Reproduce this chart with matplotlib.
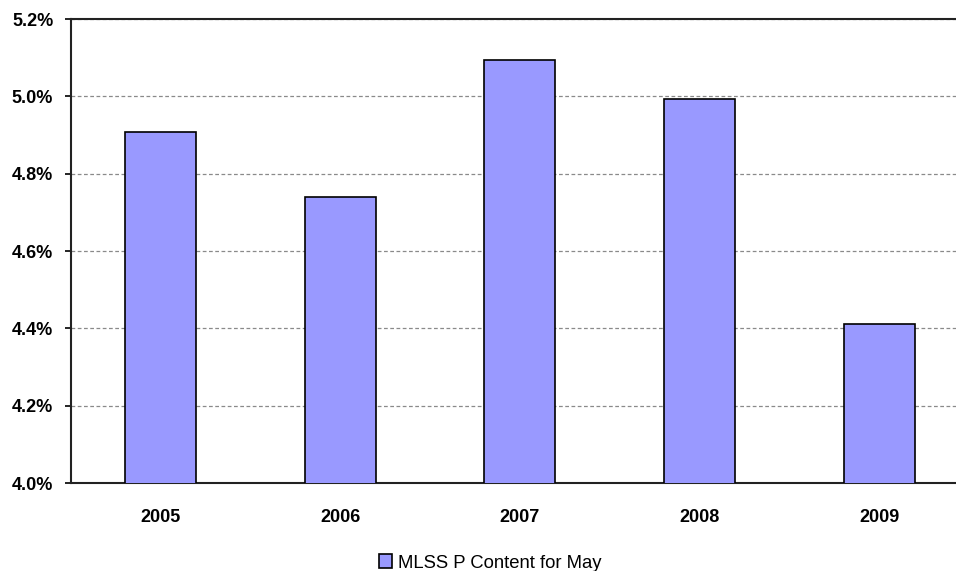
import matplotlib.pyplot as plt
import matplotlib.ticker as mticker

years = ["2005", "2006", "2007", "2008", "2009"]
p_content = [4.908, 4.740, 5.094, 4.993, 4.411]
y_ticks = [4.0, 4.2, 4.4, 4.6, 4.8, 5.0, 5.2]

plt.rcParams['font.family'] = ['Liberation Sans', 'DejaVu Sans']

fig = plt.figure(figsize=(9.56, 5.71), dpi=100)
ax = fig.add_axes([0.0739, 0.1541, 0.940, 0.8126])

ax.bar(range(len(years)), p_content, width=0.395, bottom=0,
       color='#9999FF', edgecolor='black', linewidth=1.2,
       label='MLSS P Content for May', zorder=3)

ax.set_xlim(-0.5, len(years) - 0.5)
ax.set_ylim(4.0, 5.2)
ax.set_yticks(y_ticks)
ax.yaxis.set_major_formatter(mticker.FuncFormatter(lambda v, p: f"{v:.1f}%"))
ax.set_xticks(range(len(years)))
ax.set_xticklabels(years)

ax.grid(axis='y', color='#8a8a8a', linestyle=(0, (3, 2)), linewidth=0.9, zorder=0)
ax.tick_params(axis='y', length=4, width=1.2, pad=8.5, labelsize=13)
ax.tick_params(axis='x', length=0, pad=19, labelsize=13)
for lbl in ax.get_xticklabels() + ax.get_yticklabels():
    lbl.set_fontweight('bold')

ax.spines['right'].set_visible(False)
for s in ['left', 'top', 'bottom']:
    ax.spines[s].set_linewidth(1.5)
    ax.spines[s].set_color('#222222')

fig.legend(loc='center', bbox_to_anchor=(490 / 956, 0.014), frameon=False,
           fontsize=13.3, handlelength=0.75, handleheight=0.75, handletextpad=0.3)

fig.savefig('out.png', dpi=100)
